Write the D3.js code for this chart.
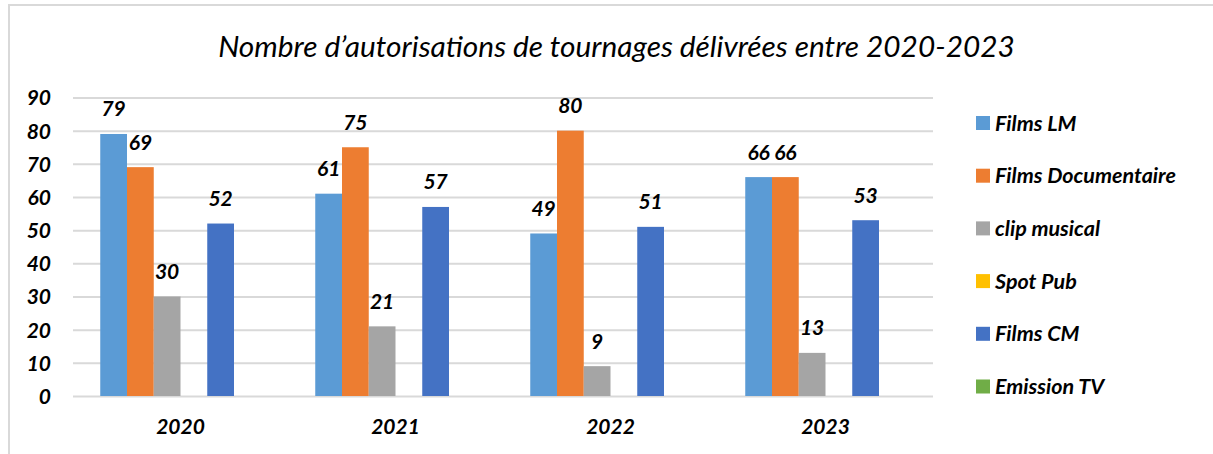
<!DOCTYPE html>
<html lang="fr">
<head>
<meta charset="utf-8">
<script src="https://cdn.jsdelivr.net/npm/d3@7/dist/d3.min.js"></script>
<style>
  html, body { margin: 0; padding: 0; background: #ffffff; }
  svg { display: block; font-family: Lato, "Open Sans", sans-serif; }
</style>
</head>
<body>
<svg id="chart" width="1213" height="454"></svg>
<script>
// Chart data
const years = ["2020", "2021", "2022", "2023"];
const seriesNames = ["Films LM", "Films Documentaire", "clip musical", "Spot Pub", "Films CM", "Emission TV"];
const filmsLM = [79, 61, 49, 66];
const filmsDocumentaire = [69, 75, 80, 66];
const clipMusical = [30, 21, 9, 13];
const spotPub = [null, null, null, null];
const filmsCM = [52, 57, 51, 53];
const emissionTV = [null, null, null, null];
const yTicks = [0, 10, 20, 30, 40, 50, 60, 70, 80, 90];
const titleText = "Nombre d\u2019autorisations de tournages délivrées entre 2020-2023";

const seriesValues = [filmsLM, filmsDocumentaire, clipMusical, spotPub, filmsCM, emissionTV];
const colors = ["#5B9BD5", "#ED7D31", "#A5A5A5", "#FFC000", "#4472C4", "#70AD47"];

const svg = d3.select("#chart");

// Outer frame (top and left edges)
svg.append("line").attr("x1", 8).attr("x2", 1213).attr("y1", 5).attr("y2", 5)
  .attr("stroke", "#D9D9D9").attr("stroke-width", 2);
svg.append("line").attr("x1", 9).attr("x2", 9).attr("y1", 4).attr("y2", 454)
  .attr("stroke", "#D9D9D9").attr("stroke-width", 2);

// Title
const title = svg.append("text")
  .attr("x", 616.5).attr("y", 57)
  .attr("text-anchor", "middle")
  .attr("font-style", "italic")
  .attr("font-weight", 400)
  .attr("font-size", 28)
  .attr("fill", "#000")
  .text(titleText);
// fit title to its slot width
const tw = title.node().getComputedTextLength();
title.attr("font-size", 28 * 797 / tw);

// Scales
const plotLeft = 73, plotRight = 933, plotTop = 97.5, plotBottom = 396;
const y = d3.scaleLinear().domain([0, 90]).range([plotBottom, plotTop]);
const x0 = d3.scaleBand().domain(years).range([plotLeft, plotRight])
  .paddingInner(0.2535).paddingOuter(0.12675);
const x1 = d3.scaleBand().domain(seriesNames).range([0, x0.bandwidth()]).padding(0);

// Y axis with gridlines
const yAxis = svg.append("g")
  .attr("transform", `translate(${plotLeft},0)`)
  .call(d3.axisLeft(y).tickValues(yTicks).tickSizeInner(-(plotRight - plotLeft)).tickSizeOuter(0).tickPadding(22));
yAxis.select(".domain").remove();
yAxis.selectAll(".tick line").attr("stroke", "#D9D9D9").attr("stroke-width", 2);
yAxis.selectAll(".tick text")
  .attr("fill", "#000")
  .attr("font-family", "Lato, sans-serif")
  .attr("font-size", 21)
  .attr("font-weight", 700)
  .attr("font-style", "italic")
  .attr("dy", "0.35em");

// X axis labels
const xAxis = svg.append("g")
  .attr("transform", `translate(0,${plotBottom})`)
  .call(d3.axisBottom(x0).tickSize(0).tickPadding(0));
xAxis.select(".domain").remove();
xAxis.selectAll(".tick text")
  .attr("fill", "#000")
  .attr("font-family", "Lato, sans-serif")
  .attr("font-size", 21)
  .attr("font-weight", 700)
  .attr("font-style", "italic")
  .attr("y", 31)
  .attr("dy", "0.35em");

// Bars
const groups = svg.append("g").selectAll("g")
  .data(years)
  .join("g")
  .attr("transform", d => `translate(${x0(d)},0)`);

const barData = (yr, i) => seriesNames.map((s, k) => ({ series: s, value: seriesValues[k][i], color: colors[k] }))
  .filter(d => d.value != null);

groups.selectAll("rect")
  .data((yr, i) => barData(yr, i))
  .join("rect")
  .attr("x", d => x1(d.series))
  .attr("width", x1.bandwidth())
  .attr("y", d => y(d.value))
  .attr("height", d => y(0) - y(d.value))
  .attr("fill", d => d.color);

// Value labels
groups.selectAll("text.value")
  .data((yr, i) => barData(yr, i))
  .join("text")
  .attr("class", "value")
  .attr("x", d => x1(d.series) + x1.bandwidth() / 2)
  .attr("y", d => y(d.value) - 17.5)
  .attr("text-anchor", "middle")
  .attr("font-size", 21)
  .attr("font-weight", 700)
  .attr("font-style", "italic")
  .attr("fill", "#000")
  .text(d => d.value);

// Legend
const legend = svg.append("g").attr("transform", "translate(976,123)");
const items = legend.selectAll("g")
  .data(seriesNames)
  .join("g")
  .attr("transform", (d, i) => `translate(0,${i * 52.7})`);
items.append("rect")
  .attr("x", 0).attr("y", -7).attr("width", 14).attr("height", 14)
  .attr("fill", (d, i) => colors[i]);
items.append("text")
  .attr("x", 19).attr("y", 0).attr("dy", "0.35em")
  .attr("font-size", 21.5)
  .attr("font-weight", 700)
  .attr("font-style", "italic")
  .attr("fill", "#000")
  .text(d => d);
</script>
</body>
</html>
